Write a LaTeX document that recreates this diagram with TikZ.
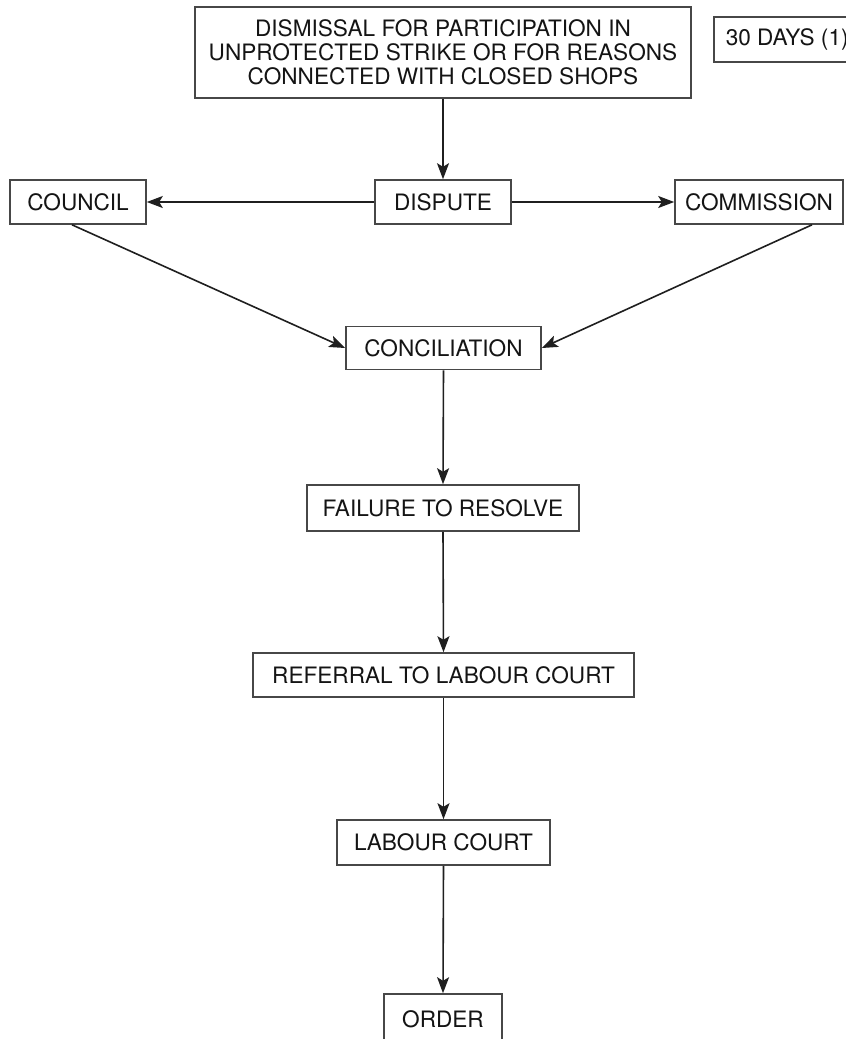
\documentclass[tikz,border=0pt]{standalone}
\usepackage{fontspec}
\setmainfont{TeX Gyre Heros}
\usetikzlibrary{arrows.meta}
\begin{document}
\begin{tikzpicture}[x=0.5pt,y=-0.5pt,
  box/.style={draw=black!72, line width=0.8pt, fill=white, inner sep=0pt,
    align=center, text=black!92, font=\fontsize{11.3}{12}\selectfont},
  flow/.style={draw=black!88, line width=0.8pt,
    -{Stealth[length=8pt,width=6pt,inset=1.8pt]}}]
\useasboundingbox (0,0) rectangle (846,1039);
\clip (0,0) rectangle (846,1039);
\fill[white] (0,0) rectangle (846,1039);

% boxes, top to bottom
\node[box, minimum width=248pt, minimum height=45.5pt] (dismissal) at (443,52.5)
  {DISMISSAL FOR PARTICIPATION IN\\UNPROTECTED STRIKE OR FOR REASONS\\CONNECTED WITH CLOSED SHOPS};
\node[box, anchor=west, inner xsep=6pt, minimum height=22.5pt] (days) at (713,39.5)
  {30 DAYS (1)};
\node[box, minimum width=68pt, minimum height=22pt] (council) at (78,202) {COUNCIL};
\node[box, minimum width=68pt, minimum height=22pt] (dispute) at (443,202) {DISPUTE};
\node[box, minimum width=84pt, minimum height=22pt] (commission) at (759,202) {COMMISSION};
\node[box, minimum width=97.5pt, minimum height=21.5pt] (conciliation) at (443.5,348) {CONCILIATION};
\node[box, minimum width=136pt, minimum height=23pt] (failure) at (443,508) {FAILURE TO RESOLVE};
\node[box, minimum width=190.5pt, minimum height=22pt] (referral) at (443.5,675) {REFERRAL TO LABOUR COURT};
\node[box, minimum width=106.5pt, minimum height=22.5pt] (court) at (443.5,842.5) {LABOUR COURT};
\node[box, minimum width=59pt, minimum height=25pt] (order) at (443,1019) {ORDER};

% connectors
\draw[flow] (dismissal.south) -- (dispute.north);
\draw[flow] (dispute.west) -- (council.east);
\draw[flow] (dispute.east) -- (commission.west);
\draw[flow] ([xshift=-3pt]council.south) -- (conciliation.west);
\draw[flow] ([xshift=26.5pt]commission.south) -- (conciliation.east);
\draw[flow] (conciliation.south) -- (failure.north);
\draw[flow] (failure.south) -- (referral.north);
\draw[flow] (referral.south) -- (court.north);
\draw[flow] (court.south) -- (order.north);
\end{tikzpicture}
\end{document}
